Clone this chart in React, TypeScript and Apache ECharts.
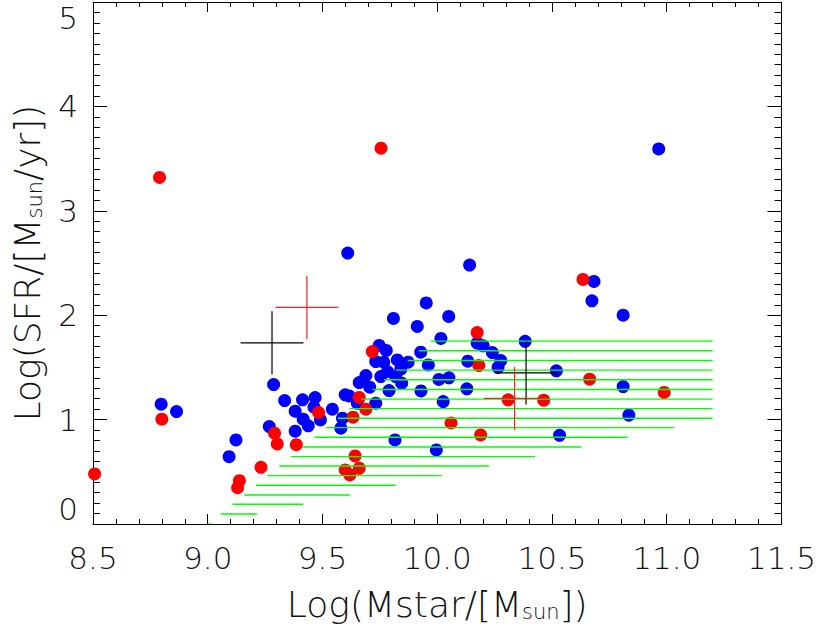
import React, { useEffect, useRef } from 'react';
import * as echarts from 'echarts';

// Blue galaxies: Log(Mstar), Log(SFR)
const blueX = [8.797, 8.864, 9.093, 9.123, 9.287, 9.335, 9.413, 9.468, 9.381, 9.463, 9.416, 9.438, 9.491, 9.543, 9.268, 9.381, 9.587, 9.58, 9.599, 9.616, 9.652, 9.732, 9.66, 9.689, 9.706, 9.754, 9.783, 9.732, 9.767, 9.747, 9.778, 9.826, 9.873, 9.841, 9.819, 9.845, 9.79, 9.929, 9.928, 9.961, 10.007, 10.051, 10.026, 10.129, 10.133, 10.016, 9.913, 9.809, 9.952, 10.05, 10.174, 10.2, 10.24, 10.277, 10.265, 10.383, 10.519, 10.533, 9.816, 9.996, 9.61, 10.141, 10.683, 10.674, 10.81, 10.81, 10.835, 10.965];
const blueY = [1.148, 1.077, 0.645, 0.805, 1.336, 1.182, 1.189, 1.211, 1.081, 1.119, 1.004, 0.94, 0.997, 1.1, 0.933, 0.889, 1.013, 0.918, 1.237, 1.227, 1.157, 1.157, 1.355, 1.422, 1.31, 1.412, 1.46, 1.556, 1.55, 1.71, 1.662, 1.572, 1.55, 1.483, 1.412, 1.349, 1.278, 1.275, 1.646, 1.524, 1.385, 1.4, 1.173, 1.295, 1.56, 1.778, 1.892, 1.969, 2.117, 1.988, 1.733, 1.707, 1.642, 1.565, 1.5, 1.75, 1.467, 0.85, 0.805, 0.709, 2.595, 2.48, 2.323, 2.138, 2.0, 1.317, 1.042, 3.592];

// Red galaxies
const redX = [8.507, 8.79, 8.8, 9.138, 9.13, 9.232, 9.291, 9.303, 9.386, 9.483, 9.633, 9.66, 9.689, 9.717, 9.642, 9.599, 9.619, 9.66, 9.755, 10.635, 10.174, 10.181, 10.664, 10.989, 10.309, 10.464, 10.06, 10.189];
const redY = [0.48, 3.32, 1.004, 0.415, 0.348, 0.543, 0.87, 0.767, 0.76, 1.067, 1.023, 1.212, 1.1, 1.652, 0.652, 0.518, 0.47, 0.534, 3.6, 2.342, 1.834, 1.518, 1.387, 1.26, 1.189, 1.186, 0.968, 0.853];

// Green hatched region: one horizontal line per entry
const hatchY = [0.004, 0.096, 0.189, 0.278, 0.371, 0.463, 0.556, 0.645, 0.738, 0.831, 0.923, 1.013, 1.105, 1.196, 1.288, 1.381, 1.474, 1.566, 1.659, 1.752];
const hatchXLeft = [9.004, 9.057, 9.108, 9.159, 9.21, 9.26, 9.312, 9.363, 9.414, 9.465, 9.516, 9.566, 9.617, 9.668, 9.718, 9.768, 9.819, 9.871, 9.92, 9.971];
const hatchXRight = [9.012, 9.215, 9.416, 9.619, 9.819, 10.02, 10.225, 10.426, 10.628, 10.829, 11.032, 11.2, 11.2, 11.2, 11.2, 11.2, 11.2, 11.2, 11.2, 11.2];

// Error crosses (centre and half-widths)
const blackCrossX = [9.28, 10.387];
const blackCrossY = [1.735, 1.447];
const blackCrossXErr = [0.137, 0.136];
const blackCrossYErr = [0.304, 0.302];
const redCrossX = [9.432, 10.337];
const redCrossY = [2.074, 1.203];
const redCrossXErr = [0.137, 0.134];
const redCrossYErr = [0.304, 0.302];

const xTickLabels = ['8.5', '9.0', '9.5', '10.0', '10.5', '11.0', '11.5'];
const yTickLabels = ['0', '1', '2', '3', '4', '5'];

const FONT = "'DejaVu Sans', sans-serif";

// Build broken polyline data (segments separated by gaps)
function segmentData(segs: [number, number, number, number][]) {
  const out: any[] = [];
  segs.forEach(([x1, y1, x2, y2]) => {
    out.push([x1, y1]);
    out.push([x2, y2]);
    out.push([x2, '-']);
  });
  return out;
}

function crossSegs(xs: number[], ys: number[], ex: number[], ey: number[]) {
  const segs: [number, number, number, number][] = [];
  xs.forEach((x, i) => {
    segs.push([x - ex[i], ys[i], x + ex[i], ys[i]]);
    segs.push([x, ys[i] - ey[i], x, ys[i] + ey[i]]);
  });
  return segs;
}

export default function App() {
  const ref = useRef<HTMLDivElement>(null);
  useEffect(() => {
    if (!ref.current) return;
    const chart = echarts.init(ref.current, undefined, { renderer: 'svg' });
    const lineStyle = { color: '#000', width: 1 };
    const labelStyle = {
      fontFamily: FONT,
      fontWeight: 200 as any,
      fontSize: 31,
      color: '#111',
    };
    const nameStyle = {
      fontFamily: FONT,
      fontWeight: 200 as any,
      fontSize: 36,
      color: '#111',
      rich: {
        sub: { fontFamily: FONT, fontWeight: 200 as any, fontSize: 21, color: '#111', verticalAlign: 'bottom', padding: [14, 0, 0, 0] },
      },
    };
    const hatchSegs: [number, number, number, number][] = hatchY.map((y, i) => [hatchXLeft[i], y, hatchXRight[i], y]);
    const lineSeries = (data: any[], color: string, width: number, z: number) => ({
      type: 'line',
      xAxisIndex: 0,
      yAxisIndex: 0,
      silent: true,
      symbol: 'none',
      showSymbol: false,
      connectNulls: false,
      clip: true,
      lineStyle: { color, width, opacity: 1 },
      itemStyle: { color },
      data,
      z,
    });
    chart.setOption({
      animation: false,
      backgroundColor: '#fff',
      grid: { left: 93, right: 36, top: 2, bottom: 104, containLabel: false },
      xAxis: [
        {
          type: 'value',
          position: 'bottom',
          min: 8.5,
          max: 11.5,
          interval: 0.5,
          axisLine: { show: true, onZero: false, lineStyle },
          axisTick: { show: true, inside: true, length: 10, lineStyle },
          minorTick: { show: true, splitNumber: 5, length: 5, lineStyle },
          splitLine: { show: false },
          axisLabel: {
            ...labelStyle,
            margin: 18,
            formatter: (v: number) => xTickLabels[Math.round((v - 8.5) / 0.5)] ?? '',
          },
          name: 'Log(Mstar/[M{sub|sun}])',
          nameLocation: 'middle',
          nameGap: 62,
          nameTextStyle: nameStyle,
        },
        {
          type: 'value',
          position: 'top',
          min: 8.5,
          max: 11.5,
          interval: 0.5,
          axisLine: { show: true, onZero: false, lineStyle },
          axisTick: { show: true, inside: true, length: 10, lineStyle },
          minorTick: { show: true, splitNumber: 5, length: 5, lineStyle },
          splitLine: { show: false },
          axisLabel: { show: false },
        },
      ],
      yAxis: [
        {
          type: 'value',
          position: 'left',
          min: 0,
          max: 5,
          interval: 1,
          axisLine: { show: true, onZero: false, lineStyle },
          axisTick: { show: true, inside: true, length: 14, lineStyle },
          minorTick: { show: true, splitNumber: 10, length: 7, lineStyle },
          splitLine: { show: false },
          axisLabel: {
            ...labelStyle,
            margin: 15,
            verticalAlignMinLabel: 'bottom',
            verticalAlignMaxLabel: 'top',
            formatter: (v: number) => yTickLabels[Math.round(v)] ?? '',
          },
          name: 'Log(SFR/[M{sub|sun}/yr])',
          nameLocation: 'middle',
          nameRotate: 90,
          nameGap: 48,
          nameTextStyle: nameStyle,
        },
        {
          type: 'value',
          position: 'right',
          min: 0,
          max: 5,
          interval: 1,
          axisLine: { show: true, onZero: false, lineStyle },
          axisTick: { show: true, inside: true, length: 14, lineStyle },
          minorTick: { show: true, splitNumber: 10, length: 7, lineStyle },
          splitLine: { show: false },
          axisLabel: { show: false },
        },
      ],
      series: [
        {
          type: 'scatter',
          xAxisIndex: 0,
          yAxisIndex: 0,
          symbol: 'circle',
          symbolSize: 13,
          clip: true,
          itemStyle: { color: '#0000ff', opacity: 1 },
          data: blueX.map((x, i) => [x, blueY[i]]),
          z: 2,
        },
        {
          type: 'scatter',
          xAxisIndex: 0,
          yAxisIndex: 0,
          symbol: 'circle',
          symbolSize: 13,
          clip: true,
          itemStyle: { color: '#ff0000', opacity: 1 },
          data: redX.map((x, i) => [x, redY[i]]),
          z: 3,
        },
        lineSeries(segmentData(hatchSegs), '#00ff00', 1.4, 4),
        lineSeries(segmentData(crossSegs(blackCrossX, blackCrossY, blackCrossXErr, blackCrossYErr)), '#000000', 1.2, 5),
        lineSeries(segmentData(crossSegs(redCrossX, redCrossY, redCrossXErr, redCrossYErr)), '#ff2020', 1.2, 5),
      ],
    });
    return () => chart.dispose();
  }, []);
  return (
    <div
      ref={ref}
      style={{ position: 'fixed', left: 0, top: 0, width: 819, height: 628, background: '#fff' }}
    />
  );
}
